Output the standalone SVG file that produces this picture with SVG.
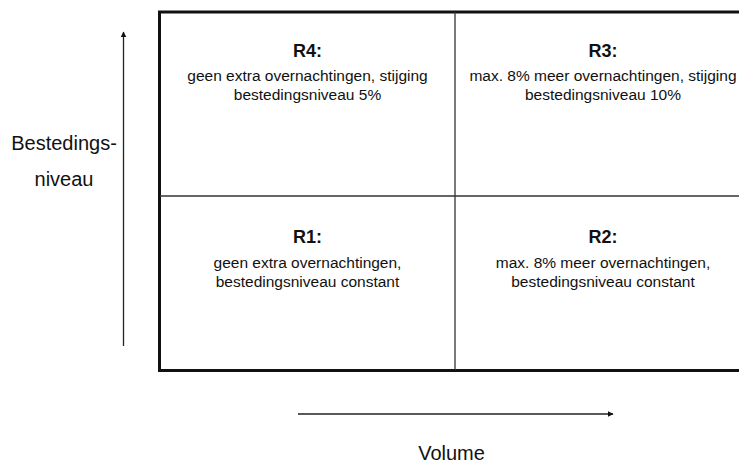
<svg xmlns="http://www.w3.org/2000/svg" width="739" height="464" viewBox="0 0 739 464">
<style>
.lbl{font-family:"Liberation Sans",Arial,sans-serif;font-weight:bold;font-size:18px;fill:#111;text-anchor:middle}
.txt{font-family:"Liberation Sans",Arial,sans-serif;font-size:15.5px;fill:#111;text-anchor:middle}
.ax{font-family:"Liberation Sans",Arial,sans-serif;font-size:20px;fill:#111;text-anchor:middle}
.div{stroke:#333;stroke-width:1.3;fill:none}
.arr{stroke:#222;stroke-width:1.3;fill:none}
</style>
<defs>
<marker id="ah" viewBox="0 0 10 10" refX="9" refY="5" markerWidth="6" markerHeight="6" markerUnits="userSpaceOnUse" orient="auto">
<path d="M0,0 L10,5 L0,10 z" fill="#111"/>
</marker>
</defs>
<rect width="739" height="464" fill="#fff"/>
<g id="grid">
<rect x="159.5" y="12" width="600" height="358.5" fill="none" stroke="#111" stroke-width="3"/>
<line class="div" x1="455" y1="12" x2="455" y2="370"/>
<line class="div" x1="160" y1="196" x2="739" y2="196"/>
</g>
<g id="R4">
<text class="lbl" x="307.5" y="57">R4:</text>
<text class="txt" x="307.5" y="81">geen extra overnachtingen, stijging</text>
<text class="txt" x="307.5" y="100">bestedingsniveau 5%</text>
</g>
<g id="R3">
<text class="lbl" x="603" y="57">R3:</text>
<text class="txt" x="603" y="81">max. 8% meer overnachtingen, stijging</text>
<text class="txt" x="603" y="100">bestedingsniveau 10%</text>
</g>
<g id="R1">
<text class="lbl" x="307.5" y="243">R1:</text>
<text class="txt" x="307.5" y="268">geen extra overnachtingen,</text>
<text class="txt" x="307.5" y="287">bestedingsniveau constant</text>
</g>
<g id="R2">
<text class="lbl" x="603" y="243">R2:</text>
<text class="txt" x="603" y="268">max. 8% meer overnachtingen,</text>
<text class="txt" x="603" y="287">bestedingsniveau constant</text>
</g>
<g id="connectors">
<line class="arr" x1="123.5" y1="346" x2="123.5" y2="32" marker-end="url(#ah)"/>
<line class="arr" x1="298" y1="414" x2="613" y2="414" marker-end="url(#ah)"/>
</g>
<g id="axis-y">
<text class="ax" x="64" y="150">Bestedings-</text>
<text class="ax" x="64" y="186">niveau</text>
</g>
<g id="axis-x">
<text class="ax" x="451.5" y="460">Volume</text>
</g>
</svg>
